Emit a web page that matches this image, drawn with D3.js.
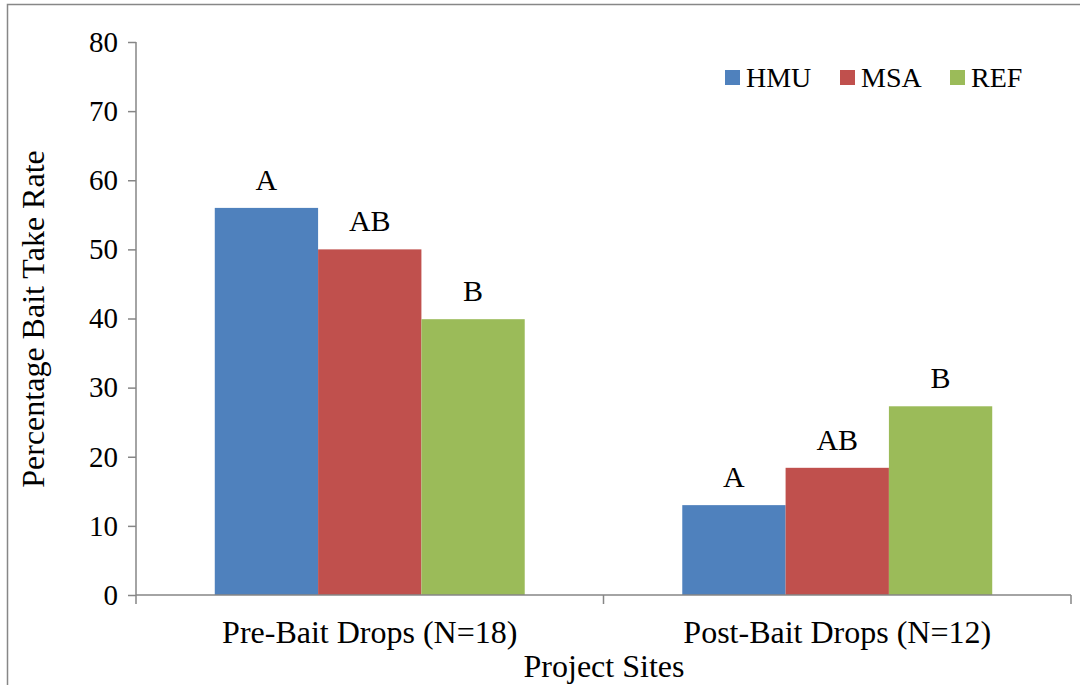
<!DOCTYPE html>
<html>
<head>
<meta charset="utf-8">
<script src="https://cdn.jsdelivr.net/npm/d3@7"></script>
<style>
  body { margin: 0; background: #fff; }
</style>
</head>
<body>
<div id="chart"></div>
<script>
const categories = ['Pre-Bait Drops (N=18)', 'Post-Bait Drops (N=12)'];
const seriesNames = ['HMU', 'MSA', 'REF'];
const seriesColors = ['#4f81bd', '#c0504d', '#9bbb59'];
const hmuValues = [56, 13];
const msaValues = [50, 18.4];
const refValues = [39.9, 27.3];
const groupLetters = [['A', 'AB', 'B'], ['A', 'AB', 'B']];
const yTicks = [0, 10, 20, 30, 40, 50, 60, 70, 80];

const FONT = 'Liberation Serif';
const width = 1080, height = 685;
const margin = { top: 42, right: 9, bottom: 90, left: 136 };
const innerW = width - margin.left - margin.right;
const innerH = height - margin.top - margin.bottom;

const svg = d3.select('#chart').append('svg')
  .attr('width', width)
  .attr('height', height)
  .attr('font-family', FONT);

// outer frame (right and bottom edges fall outside the picture)
svg.append('rect')
  .attr('x', 7.5).attr('y', 4.5)
  .attr('width', width + 10).attr('height', height + 10)
  .attr('fill', 'none')
  .attr('stroke', '#878787')
  .attr('stroke-width', 1.5);

const g = svg.append('g')
  .attr('transform', `translate(${margin.left},${margin.top})`);

const allSeries = [hmuValues, msaValues, refValues];
const rows = categories.map((c, i) => ({
  cat: c,
  vals: seriesNames.map((s, j) => ({ name: s, value: allSeries[j][i], letter: groupLetters[i][j], color: seriesColors[j] }))
}));

const x0 = d3.scaleBand()
  .domain(categories)
  .range([0, innerW])
  .paddingInner(0.337)
  .paddingOuter(0.1685);

const x1 = d3.scaleBand()
  .domain(seriesNames)
  .range([0, x0.bandwidth()]);

const y = d3.scaleLinear()
  .domain([0, 80])
  .range([innerH, 0]);

// bars
const groups = g.selectAll('.group')
  .data(rows)
  .enter().append('g')
  .attr('class', 'group')
  .attr('transform', d => `translate(${x0(d.cat)},0)`);

groups.selectAll('rect')
  .data(d => d.vals)
  .enter().append('rect')
  .attr('x', d => x1(d.name))
  .attr('y', d => y(d.value))
  .attr('width', x1.bandwidth())
  .attr('height', d => innerH - y(d.value))
  .attr('fill', d => d.color);

// significance letters above bars
groups.selectAll('.letter')
  .data(d => d.vals)
  .enter().append('text')
  .attr('class', 'letter')
  .attr('x', d => x1(d.name) + x1.bandwidth() / 2)
  .attr('y', d => y(d.value) - 18)
  .attr('text-anchor', 'middle')
  .attr('font-family', FONT)
  .attr('font-size', 30)
  .text(d => d.letter);

// Y axis
const yAxis = g.append('g')
  .call(d3.axisLeft(y).tickValues(yTicks).tickSize(8).tickPadding(10));
yAxis.selectAll('line, path').attr('stroke', '#868686').attr('stroke-width', 1.5);
yAxis.select('.domain').attr('d', `M0,0V${innerH}`);
yAxis.attr('font-family', FONT).attr('font-size', 29);
yAxis.selectAll('text').attr('fill', '#000');

// X axis with ticks at category boundaries
const xAxis = g.append('g')
  .attr('transform', `translate(0,${innerH})`);
xAxis.append('line')
  .attr('x1', 0).attr('x2', innerW)
  .attr('stroke', '#868686').attr('stroke-width', 1.5);
const boundaries = [0, innerW / 2, innerW];
xAxis.selectAll('.xtick')
  .data(boundaries)
  .enter().append('line')
  .attr('x1', d => d).attr('x2', d => d)
  .attr('y1', 0).attr('y2', 9)
  .attr('stroke', '#868686').attr('stroke-width', 1.5);
xAxis.selectAll('.xlabel')
  .data(categories)
  .enter().append('text')
  .attr('x', d => x0(d) + x0.bandwidth() / 2)
  .attr('y', 48)
  .attr('text-anchor', 'middle')
  .attr('font-family', FONT)
  .attr('font-size', 32)
  .text(d => d);

// axis titles
svg.append('text')
  .attr('x', 604)
  .attr('y', 677)
  .attr('text-anchor', 'middle')
  .attr('font-family', FONT)
  .attr('font-size', 32)
  .text('Project Sites');

svg.append('text')
  .attr('transform', `translate(44,319) rotate(-90)`)
  .attr('text-anchor', 'middle')
  .attr('font-family', FONT)
  .attr('font-size', 32)
  .text('Percentage Bait Take Rate');

// legend
const legendX = [725, 840, 950];
const legend = svg.selectAll('.legend')
  .data(seriesNames)
  .enter().append('g')
  .attr('class', 'legend')
  .attr('transform', (d, i) => `translate(${legendX[i]},70)`);
legend.append('rect')
  .attr('width', 15).attr('height', 15)
  .attr('fill', (d, i) => seriesColors[i]);
legend.append('text')
  .attr('x', 21).attr('y', 17)
  .attr('font-family', FONT)
  .attr('font-size', 28)
  .text(d => d);
</script>
</body>
</html>
